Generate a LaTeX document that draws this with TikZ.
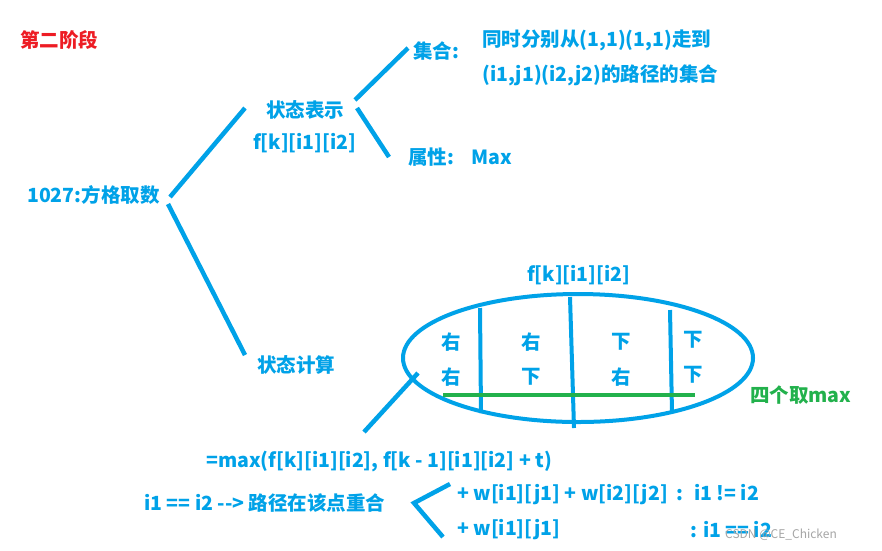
\documentclass[tikz,border=0pt]{standalone}
\usepackage{fontspec}
\setmainfont{Noto Sans CJK SC}
\usetikzlibrary{shapes.geometric}
\definecolor{myblue}{RGB}{0,162,232}
\definecolor{myred}{RGB}{237,28,36}
\definecolor{mygreen}{RGB}{34,177,76}
\begin{document}
\begin{tikzpicture}[x=1pt,y=-1pt]
\tikzset{
  txt/.style={font=\bfseries\fontsize{19.5}{22}\selectfont, text=myblue, inner sep=0pt, anchor=west},
  br/.style={draw=myblue, line width=4.5pt},
}
\useasboundingbox[fill=white] (0,0) rectangle (882,550);
% texts
\node[txt, text=myred] (stage) at (20,40) {第二阶段};
\node[txt] (root) at (27,195) {1027:方格取数};
\node[txt] (repr) at (266,110) {状态表示};
\node[txt] (fk1) at (253,143) {f[k][i1][i2]};
\node[txt] (set) at (413,51) {集合:};
\node[txt] (setd1) at (482,40) {同时分别从(1,1)(1,1)走到};
\node[txt] (setd2) at (482,75) {(i1,j1)(i2,j2)的路径的集合};
\node[txt] (attr) at (408,157) {属性:};
\node[txt] (max) at (471,157) {Max};
\node[txt] (calc) at (257,365) {状态计算};
\node[txt] (fk2) at (527,275) {f[k][i1][i2]};
% ellipse
\node[draw=myblue, line width=4pt, ellipse, minimum width=350pt, minimum height=128pt] (ell) at (578,358) {};
\coordinate (v1a) at (480,308); \coordinate (v1b) at (481,413);
\coordinate (v2a) at (570,297); \coordinate (v2b) at (574,428);
\coordinate (v3a) at (670,310); \coordinate (v3b) at (672,413);
\draw[br, line width=4pt] (v1a) -- (v1b);
\draw[br, line width=4pt] (v2a) -- (v2b);
\draw[br, line width=4pt] (v3a) -- (v3b);
\node[txt, anchor=center] (c11) at (451,342) {右};
\node[txt, anchor=center] (c12) at (451,377) {右};
\node[txt, anchor=center] (c21) at (531,342) {右};
\node[txt, anchor=center] (c22) at (531,377) {下};
\node[txt, anchor=center] (c31) at (621,342) {下};
\node[txt, anchor=center] (c32) at (621,377) {右};
\node[txt, anchor=center] (c41) at (693,340) {下};
\node[txt, anchor=center] (c42) at (693,375) {下};
\coordinate (ga) at (443,395); \coordinate (gb) at (695,395);
\draw[draw=mygreen, line width=4.5pt] (ga) -- (gb);
\node[txt, text=mygreen] (four) at (750,395) {四个取max};
% formulas
\node[txt] (eq) at (206,461) {=max(f[k][i1][i2], f[k - 1][i1][i2] + t)};
\node[txt] (same) at (144,503) {i1 == i2 {-}{-}> 路径在该点重合};
\node[txt] (w1) at (457,495) {+ w[i1][j1] + w[i2][j2] \ : \ i1 != i2};
\node[txt] (w2) at (457,530) {+ w[i1][j1]};
\node[txt] (w2c) at (690,530) {: i1 == i2};
\node[inner sep=0pt, anchor=west, text=gray!70, font=\fontsize{12}{14}\selectfont] (wm) at (725,535) {CSDN @CE\_Chicken};
% connectors
\coordinate (r1) at (170,197); \coordinate (r1e) at (245,108);
\coordinate (r2) at (168,204); \coordinate (r2e) at (245,355);
\draw[br] (r1) -- (r1e);
\draw[br] (r2) -- (r2e);
\coordinate (s1) at (355,100); \coordinate (s1e) at (408,48);
\coordinate (s2) at (357,108); \coordinate (s2e) at (389,157);
\draw[br] (s1) -- (s1e);
\draw[br] (s2) -- (s2e);
\coordinate (e1) at (418,373); \coordinate (e1e) at (364,432);
\draw[br] (e1) -- (e1e);
\coordinate (b1) at (450,484); \coordinate (b2) at (414,503); \coordinate (b3) at (443,537);
\draw[br, line join=miter] (b1) -- (b2) -- (b3);
\end{tikzpicture}
\end{document}
